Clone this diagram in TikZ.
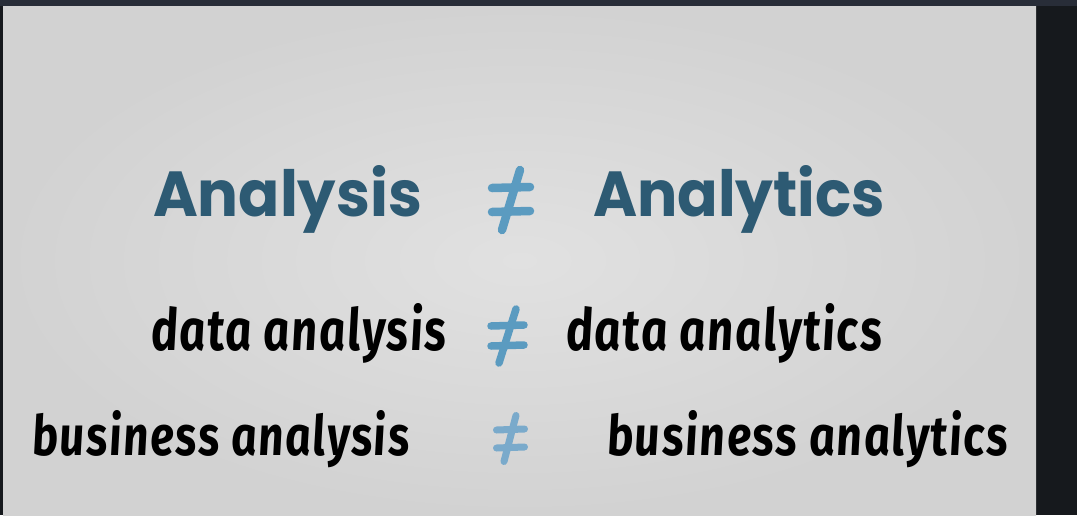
\documentclass[tikz,border=0pt]{standalone}
\usepackage{fontspec}
\usepackage{graphicx}
\newfontfamily\titlefont{Poppins}
\newfontfamily\handfont{Fira Sans}[BoldItalicFeatures={FakeSlant=-0.07,LetterSpace=4}]
\definecolor{titleblue}{HTML}{2D5A73}
\definecolor{neqblue}{HTML}{5B9BC0}
\definecolor{neqlight}{HTML}{7AAACB}
\definecolor{bgin}{HTML}{E1E1E1}
\definecolor{bgout}{HTML}{D2D2D2}
\definecolor{topbar}{HTML}{282D38}
\definecolor{sidedark}{HTML}{16191D}
\tikzset{
  txt/.style={anchor=base west, inner sep=0pt, outer sep=0pt},
  title/.style={txt, text=titleblue},
  hand/.style={txt, text=black},
  neqline/.style={draw=neqblue, line width=8pt, line cap=round},
}
\begin{document}
\begin{tikzpicture}[x=1pt,y=-1pt]
\useasboundingbox (0,0) rectangle (1077,515);
% background
\fill[sidedark] (0,0) rectangle (1077,515);
\shade[inner color=bgin, outer color=bgout] (3,6) rectangle (1036,515);
\fill[topbar] (0,0) rectangle (1077,6);
% row 1
\node[title] (analysis) at (153,216) {\resizebox{269pt}{51pt}{\titlefont\bfseries Analysis}};
\node[title] (analytics) at (593,216) {\resizebox{292pt}{51pt}{\titlefont\bfseries Analytics}};
\begin{scope}[neqline, line width=8.5pt]
  \draw (492,188) -- (530,187);
  \draw (492,212) -- (530,211);
  \draw (520,170) -- (502,230);
\end{scope}
% row 2
\node[hand] (dataanalysis) at (152,350) {\resizebox{295pt}{47pt}{\handfont\bfseries\itshape data analysis}};
\node[hand] (dataanalytics) at (567,350) {\resizebox{316pt}{47pt}{\handfont\bfseries\itshape data analytics}};
\begin{scope}[neqline, line width=7.5pt]
  \draw (491,326) -- (524,325);
  \draw (491,346) -- (524,345);
  \draw (516,309) -- (499,363);
\end{scope}
% row 3
\node[hand] (busanalysis) at (33,455) {\resizebox{377pt}{45pt}{\handfont\bfseries\itshape business analysis}};
\node[hand] (busanalytics) at (608,455) {\resizebox{401pt}{45pt}{\handfont\bfseries\itshape business analytics}};
\begin{scope}[neqline, draw=neqlight, line width=7pt]
  \draw (496.5,430) -- (524.5,429);
  \draw (496.5,448) -- (524.5,447);
  \draw (516,415.5) -- (504,461.5);
\end{scope}
\end{tikzpicture}
\end{document}
